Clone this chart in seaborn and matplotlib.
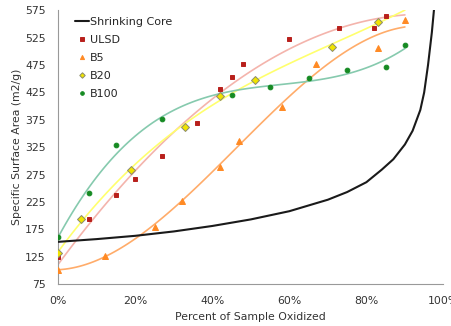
import matplotlib
matplotlib.use("Agg")
import matplotlib.pyplot as plt
from matplotlib.ticker import PercentFormatter
from matplotlib.lines import Line2D
import seaborn as sns
import pandas as pd

# Shrinking-core model curve
core_x = [0, 10, 20, 30, 40, 50, 60, 70, 75, 80, 84, 87, 90, 92, 94, 95, 96, 97, 97.6]
core_y = [152, 157, 163, 171, 181, 193, 208, 229, 243, 261, 284, 303, 330, 355, 393, 425, 475, 535, 580]

# Measured specific surface areas
ulsd_x = [0, 8, 15, 20, 27, 36, 42, 45, 48, 60, 73, 82, 85]
ulsd_y = [125, 194, 237, 266, 308, 369, 431, 453, 477, 522, 542, 542, 565]

b5_x = [0, 12, 25, 32, 42, 47, 58, 67, 83, 90]
b5_y = [101, 127, 179, 227, 289, 337, 398, 477, 507, 558]

b20_x = [0, 6, 19, 33, 42, 51, 71, 83]
b20_y = [132, 194, 284, 362, 419, 448, 508, 554]

b100_x = [0, 8, 15, 27, 45, 55, 65, 75, 85, 90]
b100_y = [161, 242, 329, 377, 420, 435, 452, 467, 472, 511]

y_ticks = list(range(75, 576, 50))
x_ticks = [0, 20, 40, 60, 80, 100]

sns.set_style("white")
plt.rcParams["font.family"] = ["DejaVu Sans"]

fig = plt.figure(figsize=(4.52, 3.26), dpi=100)
ax = fig.add_axes([0.129, 0.129, 0.852, 0.839])

series = [
    # name, x, y, marker, face, edge, trend colour, marker size, trend order
    ("ULSD", ulsd_x, ulsd_y, "s", "#b8201c", "#b8201c", "#f4b4ac", 3.3, 2),
    ("B5", b5_x, b5_y, "^", "#ff8a24", "#ff8a24", "#ffac6a", 3.8, 3),
    ("B20", b20_x, b20_y, "D", "#f0e400", "#8a8a70", "#ffff6e", 3.6, 3),
    ("B100", b100_x, b100_y, "o", "#158a22", "#158a22", "#86caae", 3.4, 3),
]

# polynomial trend lines, all spanning 0-90 %
ax.set_xlim(0, 90)
for name, xs, ys, mk, fc, ec, lc, ms, order in series:
    sns.regplot(x=xs, y=ys, order=order, ci=None, scatter=False, truncate=False,
                ax=ax, line_kws=dict(color=lc, lw=1.2, zorder=2))

# model curve
core = pd.DataFrame({"x": core_x, "y": core_y})
sns.lineplot(data=core, x="x", y="y", ax=ax, color="#1a1a1a", lw=1.5,
             zorder=3, sort=False)

handles = [Line2D([], [], color="#1a1a1a", lw=1.5, label="Shrinking Core")]
for name, xs, ys, mk, fc, ec, lc, ms, order in series:
    ax.plot(xs, ys, ls="none", marker=mk, ms=ms, mfc=fc, mec=ec, mew=0.7,
            zorder=4)
    handles.append(Line2D([], [], ls="none", marker=mk, ms=ms - 0.8, mfc=fc,
                          mec=ec, mew=0.7, label=name))

ax.set_xlim(0, 100)
ax.set_ylim(75, 575)
ax.set_xticks(x_ticks)
ax.set_yticks(y_ticks)
ax.xaxis.set_major_formatter(PercentFormatter(100, decimals=0))
ax.set_xlabel("Percent of Sample Oxidized", fontsize=7.8, color="#333333", labelpad=4)
ax.set_ylabel("Specific Surface Area (m2/g)", fontsize=7.8, color="#333333", labelpad=2)
ax.tick_params(axis="both", labelsize=7.8, colors="#333333", direction="out",
               length=3, width=0.8, color="#999999", pad=6)
for side in ("top", "right"):
    ax.spines[side].set_visible(False)
for side in ("left", "bottom"):
    ax.spines[side].set_color("#999999")
    ax.spines[side].set_linewidth(0.8)

ax.legend(handles=handles, loc="upper left", bbox_to_anchor=(0.025, 1.0),
          frameon=False, fontsize=8, handlelength=1.3, handletextpad=0.1,
          labelspacing=0.72, borderaxespad=0.2)

fig.savefig("out.png", dpi=100)
